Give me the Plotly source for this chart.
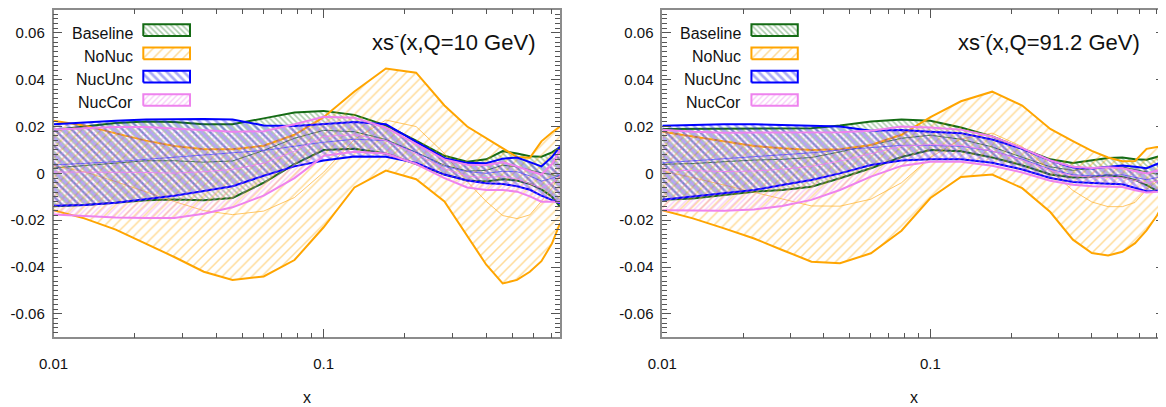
import plotly.graph_objects as go

# x grid (shared by both panels)
x = [0.01, 0.013, 0.017, 0.022, 0.028, 0.036, 0.046, 0.06, 0.078, 0.1, 0.13,
     0.17, 0.22, 0.28, 0.34, 0.4, 0.46, 0.52, 0.58, 0.64, 0.7, 0.75]

# ---- Q = 10 GeV ----
base_hi_10 = [0.0185, 0.020, 0.0215, 0.0222, 0.022, 0.021, 0.021, 0.0235, 0.026, 0.0267, 0.025,
              0.0205, 0.014, 0.0075, 0.005, 0.006, 0.0095, 0.0085, 0.0073, 0.0071, 0.009, 0.0112]
base_lo_10 = [-0.014, -0.0135, -0.0125, -0.0115, -0.0112, -0.0115, -0.0105, -0.004, 0.004, 0.010, 0.0105,
              0.0085, 0.004, -0.0005, -0.003, -0.0035, -0.0025, -0.003, -0.0045, -0.0068, -0.010, -0.0142]
base_mid_10 = [0.0023, 0.0033, 0.0045, 0.0054, 0.0054, 0.0048, 0.0053, 0.0098, 0.015, 0.0184, 0.0178,
               0.0145, 0.009, 0.0035, 0.001, 0.0013, 0.0035, 0.0028, 0.0014, 0.0002, -0.0005, -0.0015]

nonuc_hi_10 = [0.0225, 0.0205, 0.0171, 0.014, 0.0117, 0.0103, 0.0103, 0.0118, 0.0165, 0.024, 0.035,
               0.0448, 0.043, 0.029, 0.020, 0.0151, 0.0106, 0.007, 0.0067, 0.0137, 0.0175, 0.020]
nonuc_lo_10 = [-0.0157, -0.0192, -0.024, -0.030, -0.0357, -0.042, -0.0455, -0.044, -0.037, -0.023, -0.006,
               0.0012, -0.0025, -0.012, -0.027, -0.039, -0.047, -0.0455, -0.042, -0.0375, -0.030, -0.0213]
nonuc_mid_10 = [0.0034, 0.0007, -0.0035, -0.008, -0.012, -0.0159, -0.0176, -0.0161, -0.0103, 0.0005, 0.0145,
                0.0228, 0.020, 0.0085, -0.0035, -0.012, -0.018, -0.0193, -0.0177, -0.0119, -0.0063, -0.0007]

nucunc_hi_10 = [0.021, 0.0218, 0.0225, 0.023, 0.0232, 0.0232, 0.023, 0.0205, 0.0202, 0.021, 0.022,
                0.021, 0.0135, 0.0065, 0.0045, 0.0043, 0.0063, 0.0068, 0.0048, 0.003, 0.007, 0.0114]
nucunc_lo_10 = [-0.0138, -0.0135, -0.0125, -0.011, -0.0095, -0.0075, -0.0055, -0.001, 0.003, 0.0055, 0.0072,
                0.0071, 0.0045, -0.0005, -0.003, -0.0042, -0.0045, -0.0055, -0.007, -0.0095, -0.0112, -0.0128]
nucunc_mid_10 = [0.0036, 0.0042, 0.005, 0.006, 0.0069, 0.0079, 0.0088, 0.0098, 0.0116, 0.0133, 0.0146,
                 0.014, 0.009, 0.003, 0.0008, 0.0, 0.0009, 0.0007, -0.0011, -0.0033, -0.0021, -0.0007]

nuccor_hi_10 = [0.0188, 0.0193, 0.0198, 0.0198, 0.0192, 0.0185, 0.0178, 0.018, 0.021, 0.0242, 0.0238,
                0.0195, 0.0125, 0.006, 0.0037, 0.0036, 0.0048, 0.003, 0.001, -0.0005, 0.004, 0.010]
nuccor_lo_10 = [-0.0176, -0.0182, -0.0188, -0.019, -0.019, -0.0172, -0.0145, -0.0095, -0.002, 0.0075, 0.0092,
                0.0085, 0.004, -0.002, -0.006, -0.0071, -0.0071, -0.0078, -0.0098, -0.0121, -0.0122, -0.0121]
nuccor_mid_10 = [0.0006, 0.0006, 0.0005, 0.0004, 0.0001, 0.0007, 0.0017, 0.0043, 0.0095, 0.0158, 0.0165,
                 0.014, 0.0083, 0.002, -0.0012, -0.0018, -0.0012, -0.0024, -0.0044, -0.0063, -0.0041, -0.001]

# ---- Q = 91.2 GeV ----
base_hi_91 = [0.019, 0.0191, 0.0192, 0.0192, 0.0192, 0.0193, 0.0205, 0.0222, 0.023, 0.0225, 0.0196,
              0.0158, 0.0106, 0.006, 0.0044, 0.0055, 0.0066, 0.0068, 0.006, 0.0058, 0.007, 0.008]
base_lo_91 = [-0.0113, -0.0107, -0.0092, -0.0078, -0.0071, -0.0057, -0.0021, 0.0022, 0.007, 0.010, 0.0095,
              0.0068, 0.0035, -0.0005, -0.0018, -0.0015, -0.0008, -0.0015, -0.0028, -0.005, -0.0075, -0.0092]
base_mid_91 = [0.0039, 0.0042, 0.005, 0.0057, 0.006, 0.0068, 0.0092, 0.0122, 0.015, 0.0163, 0.0146,
               0.0113, 0.007, 0.0028, 0.0013, 0.002, 0.0029, 0.0027, 0.0016, 0.0004, -0.0003, -0.0006]

nonuc_hi_91 = [0.0178, 0.0157, 0.0136, 0.0117, 0.0107, 0.010, 0.0103, 0.0121, 0.0165, 0.024, 0.0308,
               0.0349, 0.029, 0.019, 0.0138, 0.0096, 0.0068, 0.0052, 0.0053, 0.0105, 0.0113, 0.0115]
nonuc_lo_91 = [-0.0157, -0.0192, -0.0235, -0.0278, -0.0327, -0.0377, -0.0384, -0.0341, -0.0245, -0.0105, -0.0015,
               -0.0005, -0.0063, -0.0165, -0.0283, -0.034, -0.0351, -0.0335, -0.0298, -0.0243, -0.018, -0.0116]
nonuc_mid_91 = [0.001, -0.0018, -0.005, -0.008, -0.011, -0.0139, -0.014, -0.011, -0.004, 0.0068, 0.0147,
                0.0172, 0.0114, 0.0013, -0.0073, -0.0122, -0.0142, -0.0142, -0.0124, -0.0069, -0.0034, 0.0]

nucunc_hi_91 = [0.0203, 0.0207, 0.021, 0.021, 0.0207, 0.0203, 0.020, 0.0182, 0.0185, 0.0178, 0.0172,
                0.0145, 0.0105, 0.0055, 0.0025, 0.0021, 0.0028, 0.0034, 0.0028, 0.0022, 0.004, 0.0058]
nucunc_lo_91 = [-0.0113, -0.0099, -0.0085, -0.0071, -0.005, -0.0028, 0.0, 0.0036, 0.0055, 0.006, 0.006,
                0.0045, 0.0017, -0.002, -0.0037, -0.0042, -0.0044, -0.0046, -0.0062, -0.0076, -0.0075, -0.006]
nucunc_mid_91 = [0.0045, 0.0054, 0.0063, 0.007, 0.0079, 0.0088, 0.010, 0.0109, 0.012, 0.0119, 0.0116,
                 0.0095, 0.0061, 0.0018, -0.0006, -0.001, -0.0008, -0.0006, -0.0017, -0.0027, -0.0018, -0.0001]

nuccor_hi_91 = [0.0186, 0.0178, 0.0174, 0.0174, 0.0174, 0.0174, 0.0176, 0.0182, 0.020, 0.0196, 0.0187,
                0.0158, 0.0108, 0.0055, 0.0028, 0.0023, 0.0026, 0.0022, 0.0012, 0.0, 0.0012, 0.002]
nuccor_lo_91 = [-0.0157, -0.0159, -0.0159, -0.0154, -0.0139, -0.0113, -0.0071, -0.0014, 0.0032, 0.005, 0.005,
                0.0033, 0.0004, -0.0031, -0.0048, -0.0055, -0.0057, -0.0058, -0.0072, -0.0082, -0.0078, -0.0073]
nuccor_mid_91 = [0.0015, 0.001, 0.0008, 0.001, 0.0018, 0.003, 0.0053, 0.0084, 0.0116, 0.0123, 0.0119,
                 0.0096, 0.0056, 0.0012, -0.001, -0.0016, -0.0016, -0.0018, -0.003, -0.0041, -0.0033, -0.0027]

names = ["Baseline", "NoNuc", "NucUnc", "NucCor"]
titles = ["xs<sup>-</sup>(x,Q=10 GeV)", "xs<sup>-</sup>(x,Q=91.2 GeV)"]
ylabel_vals = [-0.06, -0.04, -0.02, 0, 0.02, 0.04, 0.06]
ylabel_text = ["-0.06", "-0.04", "-0.02", "0", "0.02", "0.04", "0.06"]
yodd_vals = [-0.05, -0.03, -0.01, 0.01, 0.03, 0.05]

panels = [
    [(base_lo_10, base_hi_10, base_mid_10), (nonuc_lo_10, nonuc_hi_10, nonuc_mid_10),
     (nucunc_lo_10, nucunc_hi_10, nucunc_mid_10), (nuccor_lo_10, nuccor_hi_10, nuccor_mid_10)],
    [(base_lo_91, base_hi_91, base_mid_91), (nonuc_lo_91, nonuc_hi_91, nonuc_mid_91),
     (nucunc_lo_91, nucunc_hi_91, nucunc_mid_91), (nuccor_lo_91, nuccor_hi_91, nuccor_mid_91)],
]

# edge colour, hatch colour, hatch shape, hatch size, solidity, central line colour
styles = [
    ("#146b14", "rgba(20,110,20,0.7)", "\\", 4, 0.4, "rgba(20,100,20,0.8)"),
    ("#ffa500", "rgba(255,165,0,0.8)", "/", 7, 0.22, "rgba(255,175,40,0.7)"),
    ("#0000ff", "rgba(30,30,230,0.75)", "\\", 6, 0.45, "rgba(60,60,255,0.75)"),
    ("#ee82ee", "rgba(238,130,238,0.8)", "/", 4, 0.35, "rgba(238,130,238,0.9)"),
]

# page body keeps an 8px margin, so the figure is 8px smaller than the window
W, H = 1158, 399
fig = go.Figure()
axes = [("x", "y", "x3", "y3"), ("x2", "y2", "x4", "y4")]
xdoms = [[45.5 / W, 552 / W], [654.3 / W, 1157 / W]]
ydom = [(H - 329.3) / H, (H - 1.5) / H]

for p, bands in enumerate(panels):
    xa, ya, lxa, lya = axes[p]
    for (lo, hi, mid), (edge, hatch, shape, size, sol, midc) in zip(bands, styles):
        fig.add_trace(go.Scatter(x=x, y=lo, mode="lines", line=dict(color=edge, width=2),
                                 xaxis=xa, yaxis=ya, showlegend=False, hoverinfo="skip"))
        fig.add_trace(go.Scatter(x=x, y=hi, mode="lines", line=dict(color=edge, width=2),
                                 fill="tonexty", fillcolor="rgba(0,0,0,0)",
                                 fillpattern=dict(shape=shape, fgcolor=hatch, bgcolor="rgba(0,0,0,0)",
                                                  size=size, solidity=sol),
                                 xaxis=xa, yaxis=ya, showlegend=False, hoverinfo="skip"))
        fig.add_trace(go.Scatter(x=x, y=mid, mode="lines", line=dict(color=midc, width=1),
                                 xaxis=xa, yaxis=ya, showlegend=False, hoverinfo="skip"))

    # hand-made legend: label on the left, hatched box on the right
    for i, (name, (edge, hatch, shape, size, sol, midc)) in enumerate(zip(names, styles)):
        top = 0.955 - 0.0711 * i
        bot = top - 0.0357
        fig.add_trace(go.Scatter(x=[0.1773, 0.2695, 0.2695, 0.1773, 0.1773], y=[bot, bot, top, top, bot],
                                 mode="lines", line=dict(color=edge, width=2), fill="toself",
                                 fillcolor="rgba(0,0,0,0)",
                                 fillpattern=dict(shape=shape, fgcolor=hatch, bgcolor="rgba(0,0,0,0)",
                                                  size=size, solidity=sol),
                                 xaxis=lxa, yaxis=lya, showlegend=False, hoverinfo="skip"))
        fig.add_annotation(x=0.161, y=(top + bot) / 2 - 0.009, xref=lxa, yref=lya, text=name,
                           showarrow=False, xanchor="right", yanchor="middle",
                           font=dict(size=16, color="#111"))
    fig.add_annotation(x=0.955, y=0.905, xref=lxa, yref=lya, text=titles[p], showarrow=False,
                       xanchor="right", yanchor="middle", font=dict(size=22, color="#111"))
    # axis title "x", kept inside the bottom edge
    fig.add_annotation(x=(xdoms[p][0] + xdoms[p][1]) / 2, y=0, xref="paper", yref="paper",
                       text="x", showarrow=False, xanchor="center", yanchor="bottom",
                       borderpad=0, font=dict(size=16, color="#111"))

xaxis_common = dict(type="log", range=[-2, -0.125], showgrid=False, zeroline=False, automargin=False,
                    showline=True, linecolor="#8c8c8c", linewidth=1.5, mirror="allticks",
                    ticks="inside", ticklen=9, tickcolor="#555", tickwidth=1,
                    tickvals=[0.01, 0.1], ticktext=["0.01", "0.1"], ticklabelstandoff=12,
                    minor=dict(ticks="inside", ticklen=5, tickcolor="#555",
                               tickvals=[0.02, 0.03, 0.04, 0.05, 0.06, 0.07, 0.08, 0.09,
                                         0.2, 0.3, 0.4, 0.5, 0.6, 0.7]),
                    tickfont=dict(size=15))
yaxis_common = dict(range=[-0.07, 0.07], showgrid=False, zeroline=False, automargin=False,
                    showline=True, linecolor="#8c8c8c", linewidth=1.5, mirror="allticks",
                    ticks="inside", ticklen=9, tickcolor="#555", tickwidth=1,
                    tickvals=ylabel_vals, ticktext=ylabel_text, ticklabelstandoff=4,
                    minor=dict(ticks="inside", ticklen=5, tickcolor="#555", dtick=0.002, tick0=0),
                    tickfont=dict(size=15))
# extra overlay axes carrying the unlabelled ticks at odd 0.01 steps
yodd_common = dict(range=[-0.07, 0.07], showgrid=False, zeroline=False, automargin=False,
                   showline=False, ticks="inside", ticklen=9, tickcolor="#555", tickwidth=1,
                   mirror="ticks", tickvals=yodd_vals, showticklabels=False)

fig.update_layout(
    width=W, height=H, margin=dict(l=0, r=0, t=0, b=0),
    paper_bgcolor="white", plot_bgcolor="white",
    font=dict(family="Liberation Sans, Arial, sans-serif", color="#111"),
    xaxis=dict(xaxis_common, domain=xdoms[0], anchor="y"),
    yaxis=dict(yaxis_common, domain=ydom, anchor="x"),
    xaxis2=dict(xaxis_common, domain=xdoms[1], anchor="y2"),
    yaxis2=dict(yaxis_common, domain=ydom, anchor="x2"),
    xaxis3=dict(overlaying="x", range=[0, 1], visible=False),
    yaxis3=dict(overlaying="y", range=[0, 1], visible=False),
    xaxis4=dict(overlaying="x2", range=[0, 1], visible=False),
    yaxis4=dict(overlaying="y2", range=[0, 1], visible=False),
    yaxis5=dict(yodd_common, overlaying="y", anchor="x"),
    yaxis6=dict(yodd_common, overlaying="y2", anchor="x2"),
)

fig.write_html("out.html")
